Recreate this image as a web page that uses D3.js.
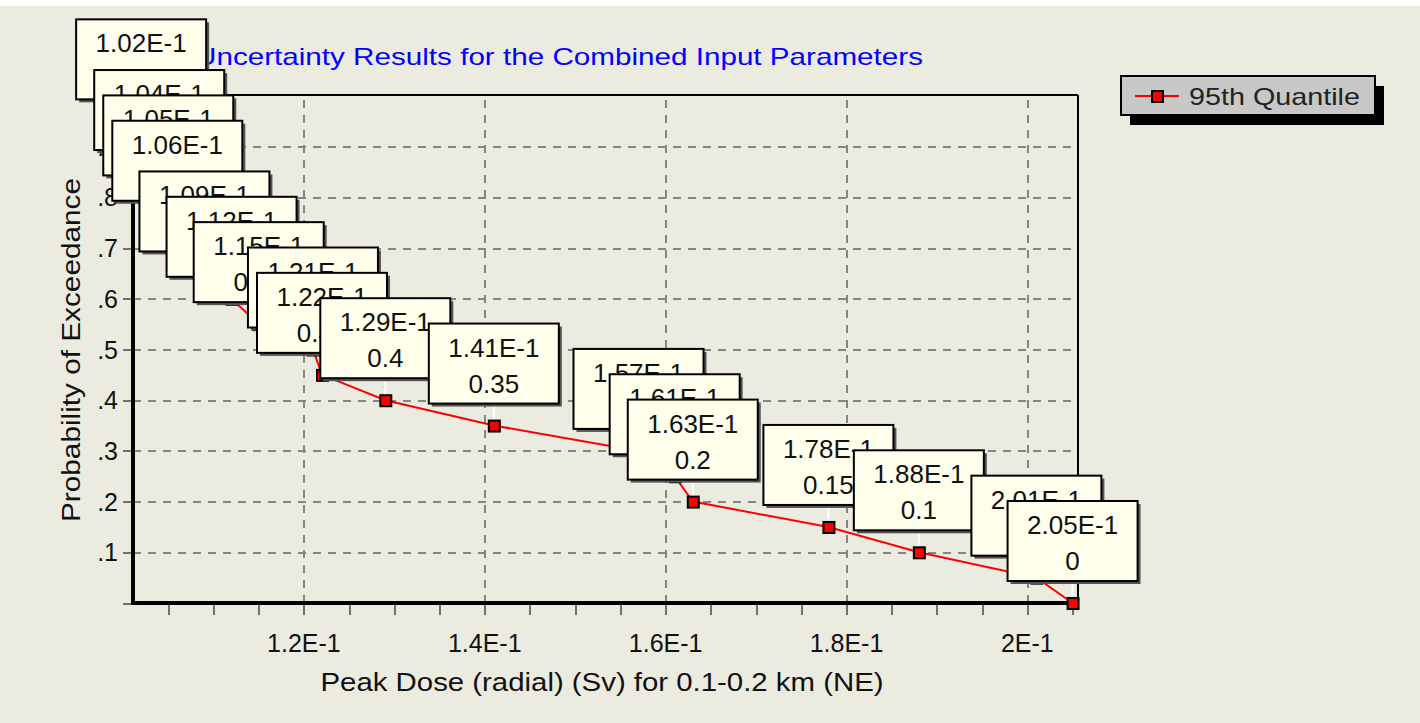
<!DOCTYPE html>
<html>
<head>
<meta charset="utf-8">
<script src="https://cdn.jsdelivr.net/npm/d3@7/dist/d3.min.js"></script>
<style>
  body { margin: 0; background: #ecebe0; }
  svg { display: block; }
</style>
</head>
<body>
<div id="chart"></div>
<script>
// 95th quantile of peak dose vs probability of exceedance
const doseValues = [0.102, 0.104, 0.105, 0.106, 0.109, 0.112, 0.115, 0.121, 0.122,
                    0.129, 0.141, 0.157, 0.161, 0.163, 0.178, 0.188, 0.201, 0.205];
const exceedance = [0.95, 0.85, 0.8, 0.75, 0.65, 0.6, 0.55, 0.5, 0.45,
                    0.4, 0.35, 0.3, 0.25, 0.2, 0.15, 0.1, 0.05, 0];

const xTickValues = [0.12, 0.14, 0.16, 0.18, 0.2];
const xTickLabels = ["1.2E-1", "1.4E-1", "1.6E-1", "1.8E-1", "2E-1"];
const xMinorTicks = d3.range(0.105, 0.2051, 0.005);
const yTickValues = [0.1, 0.2, 0.3, 0.4, 0.5, 0.6, 0.7, 0.8, 0.9];
const yTickLabels = [".1", ".2", ".3", ".4", ".5", ".6", ".7", ".8", ".9"];
const allYTicks = [0, 0.1, 0.2, 0.3, 0.4, 0.5, 0.6, 0.7, 0.8, 0.9, 1];

const seriesName = "95th Quantile";
const chartTitle = "Uncertainty Results for the Combined Input Parameters";
const xTitle = "Peak Dose (radial) (Sv) for 0.1-0.2 km (NE)";
const yTitle = "Probability of Exceedance";

const width = 1420, height = 723;
const plotLeft = 133, plotRight = 1078, plotTop = 95, plotBottom = 603;
const font = "Arial, 'Liberation Sans', sans-serif";

const points = doseValues.map((d, i) => ({ x: d, p: exceedance[i] }));

const svg = d3.select("#chart").append("svg")
  .attr("width", width)
  .attr("height", height);

svg.append("rect").attr("width", width).attr("height", height).attr("fill", "#ecebe0");
svg.append("rect").attr("width", width).attr("height", 6).attr("fill", "#ffffff");

const x = d3.scaleLinear().domain([0.1011, 0.2056]).range([plotLeft, plotRight]);
const y = d3.scaleLinear().domain([0, 1]).range([plotBottom, 96]);

// Grid lines
svg.append("g")
  .attr("transform", `translate(0,${plotBottom})`)
  .call(d3.axisBottom(x).tickValues(xTickValues).tickSize(-(plotBottom - plotTop)).tickFormat(""))
  .call(g => g.select(".domain").remove())
  .call(g => g.selectAll("line").attr("stroke", "#858585").attr("stroke-width", 2)
    .attr("stroke-dasharray", "8,7").attr("shape-rendering", "crispEdges"));

svg.append("g")
  .attr("transform", `translate(${plotLeft},0)`)
  .call(d3.axisLeft(y).tickValues(yTickValues).tickSize(-(plotRight - plotLeft)).tickFormat(""))
  .call(g => g.select(".domain").remove())
  .call(g => g.selectAll("line").attr("stroke", "#858585").attr("stroke-width", 2)
    .attr("stroke-dasharray", "8,7").attr("shape-rendering", "crispEdges"));

// Minor ticks below x axis
svg.append("g")
  .attr("transform", `translate(0,${plotBottom + 2})`)
  .call(d3.axisBottom(x).tickValues(xMinorTicks).tickSize(10).tickFormat(""))
  .call(g => g.select(".domain").remove())
  .call(g => g.selectAll("line").attr("stroke", "#707070").attr("stroke-width", 2).attr("shape-rendering", "crispEdges"));

// y ticks left of axis
svg.append("g")
  .attr("transform", `translate(${plotLeft},0)`)
  .call(d3.axisLeft(y).tickValues(allYTicks).tickSize(10).tickFormat(""))
  .call(g => g.select(".domain").remove())
  .call(g => g.selectAll("line").attr("stroke", "#707070").attr("stroke-width", 2).attr("shape-rendering", "crispEdges"));

// x tick labels
svg.append("g")
  .selectAll("text")
  .data(xTickValues)
  .enter()
  .append("text")
  .attr("x", d => x(d))
  .attr("y", 652)
  .attr("text-anchor", "middle")
  .attr("font-family", font)
  .attr("font-size", "25px")
  .attr("fill", "#111")
  .text((d, i) => xTickLabels[i]);

// y tick labels
svg.append("g")
  .selectAll("text")
  .data(yTickValues)
  .enter()
  .append("text")
  .attr("x", 118)
  .attr("y", d => y(d) + 9)
  .attr("text-anchor", "end")
  .attr("font-family", font)
  .attr("font-size", "25px")
  .attr("fill", "#111")
  .text((d, i) => yTickLabels[i]);

// Frame
svg.append("line").attr("x1", plotLeft).attr("x2", plotRight).attr("y1", plotTop).attr("y2", plotTop)
  .attr("stroke", "#000").attr("stroke-width", 2);
svg.append("line").attr("x1", plotRight).attr("x2", plotRight).attr("y1", plotTop).attr("y2", plotBottom + 2)
  .attr("stroke", "#000").attr("stroke-width", 2);
svg.append("line").attr("x1", plotLeft).attr("x2", plotLeft).attr("y1", plotTop).attr("y2", plotBottom + 2)
  .attr("stroke", "#000").attr("stroke-width", 4);
svg.append("line").attr("x1", plotLeft - 2).attr("x2", plotRight + 1).attr("y1", plotBottom).attr("y2", plotBottom)
  .attr("stroke", "#000").attr("stroke-width", 4);

// Titles
svg.append("text")
  .attr("x", 195).attr("y", 65)
  .attr("font-family", font).attr("font-size", "24px")
  .attr("fill", "#0000ff")
  .attr("textLength", 728).attr("lengthAdjust", "spacingAndGlyphs")
  .text(chartTitle);

svg.append("text")
  .attr("x", 602).attr("y", 691)
  .attr("text-anchor", "middle")
  .attr("font-family", font).attr("font-size", "25px")
  .attr("fill", "#111")
  .attr("textLength", 563).attr("lengthAdjust", "spacingAndGlyphs")
  .text(xTitle);

svg.append("text")
  .attr("transform", "translate(80,350) rotate(-90)")
  .attr("text-anchor", "middle")
  .attr("font-family", font).attr("font-size", "25px")
  .attr("fill", "#111")
  .attr("textLength", 344).attr("lengthAdjust", "spacingAndGlyphs")
  .text(yTitle);

// Series line
const line = d3.line().x(d => x(d.x)).y(d => y(d.p));
svg.append("path")
  .datum(points)
  .attr("d", line)
  .attr("fill", "none")
  .attr("stroke", "#ff0000")
  .attr("stroke-width", 2);

// Markers and mark arrows
const markers = svg.append("g");
markers.selectAll(".arrow")
  .data(points)
  .enter()
  .append("line")
  .attr("x1", d => x(d.x)).attr("x2", d => x(d.x))
  .attr("y1", d => y(d.p) - 5).attr("y2", d => y(d.p) - 22)
  .attr("stroke", "#ffffff").attr("stroke-width", 2);

markers.selectAll(".marker")
  .data(points)
  .enter()
  .append("rect")
  .attr("x", d => x(d.x) - 5)
  .attr("y", d => y(d.p) - 5)
  .attr("width", 11)
  .attr("height", 11)
  .attr("fill", "#ff0000")
  .attr("stroke", "#000")
  .attr("stroke-width", 2);

// Value marks (boxes drawn in order, later on top)
const boxW = 130, boxH = 80, gap = 22;
const marks = svg.append("g")
  .selectAll("g")
  .data(points)
  .enter()
  .append("g")
  .attr("transform", d => `translate(${x(d.x)},${y(d.p) - gap - boxH})`);

marks.append("rect")
  .attr("x", -boxW / 2 + 3).attr("y", 3)
  .attr("width", boxW).attr("height", boxH)
  .attr("fill", "#555");

marks.append("rect")
  .attr("x", -boxW / 2).attr("y", 0)
  .attr("width", boxW).attr("height", boxH)
  .attr("fill", "#ffffec")
  .attr("stroke", "#000")
  .attr("stroke-width", 2);

marks.append("text")
  .attr("x", 0).attr("y", 33)
  .attr("text-anchor", "middle")
  .attr("font-family", font).attr("font-size", "26px")
  .attr("fill", "#111")
  .text(d => d3.format(".2e")(d.x).toUpperCase());

marks.append("text")
  .attr("x", 0).attr("y", 69)
  .attr("text-anchor", "middle")
  .attr("font-family", font).attr("font-size", "26px")
  .attr("fill", "#111")
  .text(d => String(d.p));

// Legend
const legend = svg.append("g").attr("transform", "translate(1121,76)");
legend.append("rect").attr("x", 9).attr("y", 10).attr("width", 254).attr("height", 39).attr("fill", "#000");
legend.append("rect").attr("x", 0).attr("y", 0).attr("width", 254).attr("height", 39)
  .attr("fill", "#c8c8c8").attr("stroke", "#000").attr("stroke-width", 2);
legend.append("line").attr("x1", 14).attr("x2", 58).attr("y1", 20).attr("y2", 20)
  .attr("stroke", "#ff0000").attr("stroke-width", 2);
legend.append("rect").attr("x", 31).attr("y", 15).attr("width", 11).attr("height", 11)
  .attr("fill", "#ff0000").attr("stroke", "#000").attr("stroke-width", 2);
legend.append("text")
  .attr("x", 68).attr("y", 29)
  .attr("font-family", font).attr("font-size", "24px")
  .attr("fill", "#222")
  .attr("textLength", 171).attr("lengthAdjust", "spacingAndGlyphs")
  .text(seriesName);
</script>
</body>
</html>
